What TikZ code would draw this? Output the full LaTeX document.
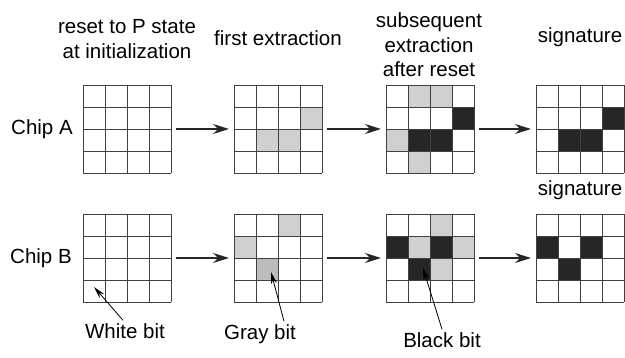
\documentclass[tikz,border=0pt]{standalone}
\usepackage{fontspec}
\setmainfont{Liberation Sans}
\usetikzlibrary{calc}
\usetikzlibrary{arrows.meta}

\definecolor{bitgray}{HTML}{D0D0D0}
\definecolor{bitdarkgray}{HTML}{BCBCBC}
\definecolor{bitblack}{HTML}{262626}

% one filled cell: grid, column, row, colour
\newcommand{\setbit}[4]{\fill[#4] ($(#1.north west)+({#2*22},{#3*22})$) rectangle ++(22,22);}

\begin{document}
\begin{tikzpicture}[x=1pt, y=-1pt,
    gridbox/.style={minimum size=88pt, inner sep=0pt, outer sep=0pt, anchor=north west},
    gridline/.style={draw=black!75, line width=0.9pt},
    flow/.style={-{Stealth[length=16pt,width=10pt]}, line width=1.2pt, draw=black!85, shorten <=5pt, shorten >=5pt},
    pointer/.style={-{Stealth[length=12pt,width=6pt]}, line width=0.8pt},
    headtext/.style={font=\fontsize{20.5}{24.5}\selectfont, align=center, inner sep=0pt}]

    \useasboundingbox (0,0) rectangle (625,358);

    % grids
    \node[gridbox] (A1) at (83,85) {};
    \node[gridbox] (A2) at (234,85) {};
    \node[gridbox] (A3) at (386,85) {};
    \node[gridbox] (A4) at (536,85) {};
    \node[gridbox] (B1) at (83,214) {};
    \node[gridbox] (B2) at (234,214) {};
    \node[gridbox] (B3) at (386,214) {};
    \node[gridbox] (B4) at (536,214) {};

    % chip A bits
    \setbit{A2}{3}{1}{bitgray}
    \setbit{A2}{1}{2}{bitgray}
    \setbit{A2}{2}{2}{bitgray}

    \setbit{A3}{1}{0}{bitgray}
    \setbit{A3}{2}{0}{bitgray}
    \setbit{A3}{3}{1}{bitblack}
    \setbit{A3}{0}{2}{bitgray}
    \setbit{A3}{1}{2}{bitblack}
    \setbit{A3}{2}{2}{bitblack}
    \setbit{A3}{1}{3}{bitgray}

    \setbit{A4}{3}{1}{bitblack}
    \setbit{A4}{1}{2}{bitblack}
    \setbit{A4}{2}{2}{bitblack}

    % chip B bits
    \setbit{B2}{2}{0}{bitgray}
    \setbit{B2}{0}{1}{bitgray}
    \setbit{B2}{1}{2}{bitdarkgray}

    \setbit{B3}{2}{0}{bitgray}
    \setbit{B3}{0}{1}{bitblack}
    \setbit{B3}{1}{1}{bitgray}
    \setbit{B3}{2}{1}{bitblack}
    \setbit{B3}{3}{1}{bitgray}
    \setbit{B3}{1}{2}{bitblack}
    \setbit{B3}{2}{2}{bitgray}

    \setbit{B4}{0}{1}{bitblack}
    \setbit{B4}{2}{1}{bitblack}
    \setbit{B4}{1}{2}{bitblack}

    % grid lines
    \foreach \g in {A1,A2,A3,A4,B1,B2,B3,B4} {
        \foreach \i in {0,...,4} {
            \draw[gridline] ($(\g.north west)+({\i*22},0)$) -- ++(0,88);
            \draw[gridline] ($(\g.north west)+(0,{\i*22})$) -- ++(88,0);
        }
    }

    % steps
    \draw[flow] (A1.east) -- (A2.west);
    \draw[flow] (A2.east) -- (A3.west);
    \draw[flow] (A3.east) -- (A4.west);
    \draw[flow] (B1.east) -- (B2.west);
    \draw[flow] (B2.east) -- (B3.west);
    \draw[flow] (B3.east) -- (B4.west);

    % headings
    \node[headtext] (reset) at (127,39) {reset to P state\\at initialization};
    \node[headtext] (first) at (278,38) {first extraction};
    \node[headtext] (subseq) at (429,45) {subsequent\\extraction\\after reset};
    \node[headtext] (sigA) at (580,37) {signature};
    \node[headtext] (sigB) at (580,190) {signature};
    \node[headtext] (chipA) at (42,129) {Chip A};
    \node[headtext] (chipB) at (41,258) {Chip B};

    % bit kinds
    \node[headtext] (white) at (125,331) {White bit};
    \node[headtext] (gray) at (260,334) {Gray bit};
    \node[headtext] (black) at (442,340) {Black bit};

    \coordinate (whitetip) at ($(B1.north west)+(11,73)$);
    \coordinate (graytip) at ($(B2.north west)+(37,58)$);
    \coordinate (blacktip) at ($(B3.north west)+(37,54)$);

    \draw[pointer] ([xshift=-2pt,yshift=3pt]white.north) -- (whitetip);
    \draw[pointer] ([xshift=24pt,yshift=3pt]gray.north) -- (graytip);
    \draw[pointer] ([xshift=0pt,yshift=3pt]black.north) -- (blacktip);
\end{tikzpicture}
\end{document}
